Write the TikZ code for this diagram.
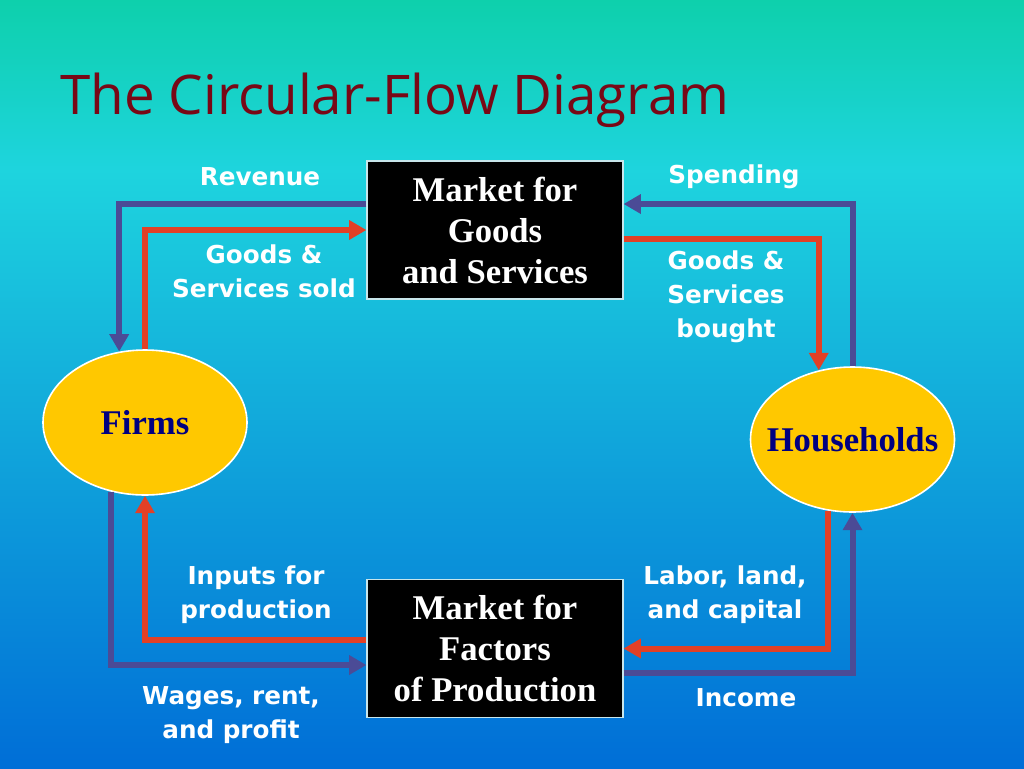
\documentclass[tikz,border=0pt]{standalone}
\usepackage{fontspec}
\setmainfont{Liberation Serif}
\newfontfamily\labfont{DejaVu Sans}
\newfontfamily\titlefont{Open Sans}
\usetikzlibrary{arrows.meta,calc,shapes.geometric}
\definecolor{bgA}{RGB}{14,208,172}
\definecolor{bgB}{RGB}{30,212,222}
\definecolor{bgC}{RGB}{0,110,215}
\definecolor{titlered}{RGB}{120,8,22}
\definecolor{flowblue}{RGB}{75,75,150}
\definecolor{flowred}{RGB}{226,64,38}
\definecolor{ovalyellow}{RGB}{255,200,0}
\definecolor{navytext}{RGB}{0,0,128}
\definecolor{boxedge}{RGB}{200,230,235}
\tikzset{
  arr/.style={line width=4.5pt, -{Triangle[length=13pt,width=14pt]}},
  bluarr/.style={arr, draw=flowblue},
  redarr/.style={arr, draw=flowred},
  mkt/.style={rectangle, fill=black, draw=boxedge, line width=0.8pt,
    minimum width=192pt, minimum height=103.5pt, inner sep=0pt,
    text=white, align=center, font=\bfseries\fontsize{26}{30.75}\selectfont},
  agent/.style={ellipse, fill=ovalyellow, draw=white, line width=1.2pt,
    minimum width=153pt, minimum height=108.75pt, inner sep=0pt},
  agenttext/.style={inner sep=0pt, text=navytext,
    font=\bfseries\fontsize{26}{30}\selectfont},
  lab/.style={text=white, align=center, inner sep=0pt,
    font=\labfont\bfseries\fontsize{18.5}{25.5}\selectfont}
}
\begin{document}
\begin{tikzpicture}[x=0.75pt,y=-0.75pt]
\useasboundingbox (0,0) rectangle (1024,768);
\shade[top color=bgA, bottom color=bgB] (0,0) rectangle (1024,171);
\shade[top color=bgB, bottom color=bgC] (0,170) rectangle (1024,768);

\node[anchor=base west, inner sep=0pt, text=titlered,
  font=\titlefont\fontsize{41}{48}\selectfont] (title) at (60,114) {The Circular-Flow Diagram};

\node[mkt] (mg) at (495,230) {Market for\\Goods\\and Services};
\node[mkt] (mf) at (495,648.5) {Market for\\Factors\\of Production};
\node[agent, label={[agenttext]center:Firms}] (firms) at (145,422.5) {};
\node[agent, label={[agenttext]center:Households}] (hh) at (852.5,439.5) {};

% top left
\draw[bluarr] ($(mg.west)+(0,-26)$) -| (firms.110);
\draw[redarr] (firms.north) |- (mg.west);
% top right
\draw[bluarr] (hh.north) |- ($(mg.east)+(0,-26)$);
\draw[redarr] ($(mg.east)+(0,9)$) -| (hh.116);
% bottom left
\draw[redarr] ($(mf.west)+(0,-8.5)$) -| (firms.south);
\draw[bluarr] (firms.244) |- ($(mf.west)+(0,16.5)$);
% bottom right
\draw[redarr] (hh.251) |- (mf.east);
\draw[bluarr] ($(mf.east)+(0,24.5)$) -| (hh.south);

\node[lab] (l1) at (260,177) {Revenue};
\node[lab] (l2) at (734,177) {Spending};
\node[lab] (l3) at (264,271) {Goods \&\\Services sold};
\node[lab] (l4) at (726,297) {Goods \&\\Services\\bought};
\node[lab] (l5) at (256,595) {Inputs for\\production};
\node[lab] (l6) at (725,595) {Labor, land,\\and capital};
\node[lab] (l7) at (231,715) {Wages, rent,\\and profit};
\node[lab] (l8) at (746,698) {Income};
\end{tikzpicture}
\end{document}
